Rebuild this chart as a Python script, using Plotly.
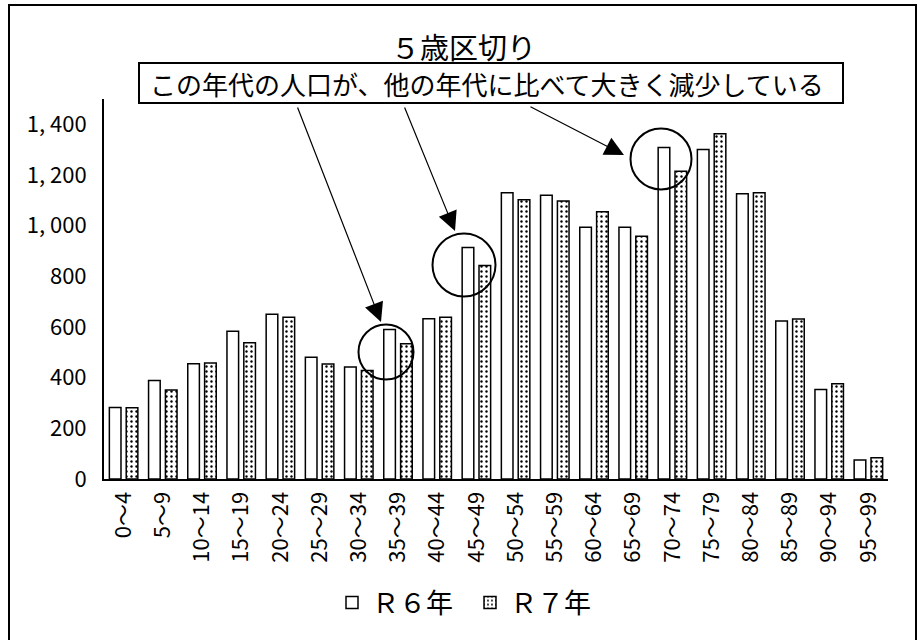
import plotly.graph_objects as go

categories = ["0～4", "5～9", "10～14", "15～19", "20～24", "25～29", "30～34", "35～39",
              "40～44", "45～49", "50～54", "55～59", "60～64", "65～69", "70～74", "75～79",
              "80～84", "85～89", "90～94", "95～99"]
r6_values = [282, 389, 455, 583, 650, 481, 442, 590, 633, 914, 1130, 1120, 994, 994,
             1309, 1301, 1126, 624, 353, 75]
r7_values = [281, 351, 458, 538, 638, 454, 428, 534, 638, 843, 1102, 1097, 1055, 958,
             1215, 1363, 1130, 632, 376, 84]
series_names = ["Ｒ６年", "Ｒ７年"]
y_tick_values = [0, 200, 400, 600, 800, 1000, 1200, 1400]
y_tick_labels = ["0", "200", "400", "600", "800", "1, 000", "1, 200", "1, 400"]
title_text = "５歳区切り"
note_text = "この年代の人口が、他の年代に比べて大きく減少している"

W, H = 923, 640
L, R, T, B = 104, 35, 99, 161
PW, PH = W - L - R, H - T - B
FONT = "Noto Sans CJK JP"


def px(x):
    return (x - L) / PW


def py(y):
    return (H - B - y) / PH


fig = go.Figure()
fig.add_trace(go.Bar(
    x=categories, y=r6_values, name=series_names[0],
    marker=dict(color="white", line=dict(color="black", width=1.5)),
))
fig.add_trace(go.Bar(
    x=categories, y=r7_values, name=series_names[1],
    marker=dict(color="white", line=dict(color="black", width=1.5),
                pattern=dict(shape=".", fgcolor="black", bgcolor="white",
                             size=5, solidity=0.18, fillmode="replace")),
))

shapes = []
# outer frame
shapes.append(dict(type="rect", xref="paper", yref="paper",
                   x0=px(9), x1=px(916), y0=py(5), y1=py(660),
                   line=dict(color="black", width=2), fillcolor="rgba(0,0,0,0)", layer="below"))
# note box
shapes.append(dict(type="rect", xref="paper", yref="paper",
                   x0=px(139), x1=px(843), y0=py(63), y1=py(103),
                   line=dict(color="black", width=2), fillcolor="white"))
# circles
for cx, cy, r in [(386, 352, 27.5), (464, 265, 31.5), (661, 159, 30.5)]:
    shapes.append(dict(type="circle", xref="paper", yref="paper",
                       x0=px(cx - r), x1=px(cx + r), y0=py(cy - r), y1=py(cy + r),
                       line=dict(color="black", width=2)))

annotations = [
    dict(text=title_text, xref="paper", yref="paper", x=px(463), y=py(46),
         showarrow=False, font=dict(family=FONT, size=29, color="black"),
         xanchor="center", yanchor="middle"),
    dict(text=note_text, xref="paper", yref="paper", x=px(487), y=py(83),
         showarrow=False, font=dict(family=FONT, size=26, color="black"),
         xanchor="center", yanchor="middle"),
]
for (tx, ty), (hx, hy) in [((297, 106), (381, 322)), ((404, 106), (455, 231)),
                           ((529, 106), (624, 155))]:
    annotations.append(dict(text="", xref="paper", yref="paper", x=px(hx), y=py(hy),
                            ax=tx - hx, ay=ty - hy, axref="pixel", ayref="pixel",
                            showarrow=True, arrowhead=2, arrowsize=3.2, arrowwidth=1.2,
                            arrowcolor="black", standoff=0))

fig.update_layout(
    width=W, height=H,
    margin=dict(l=L, r=R, t=T, b=B, autoexpand=False),
    paper_bgcolor="white", plot_bgcolor="white",
    font=dict(family=FONT, color="black"),
    barmode="group", bargap=0.14, bargroupgap=0.31,
    showlegend=True,
    legend=dict(orientation="h", x=px(470), y=py(603), xanchor="center", yanchor="middle",
                font=dict(family=FONT, size=27, color="black"), bgcolor="rgba(0,0,0,0)",
                entrywidth=93, entrywidthmode="pixels", itemclick=False),
    shapes=shapes, annotations=annotations,
)
fig.update_xaxes(showline=True, linecolor="black", linewidth=2, showgrid=False,
                 ticks="", tickangle=-90, tickfont=dict(family=FONT, size=22, color="black"),
                 ticklabelstandoff=2)
fig.update_yaxes(range=[0, 1500], tickvals=y_tick_values, ticktext=y_tick_labels,
                 showline=True, linecolor="black", linewidth=2, showgrid=False,
                 zeroline=False, ticks="",
                 tickfont=dict(family=FONT, size=22, color="black"), ticklabelstandoff=11)

fig.write_html("out.html", config={"displayModeBar": False},
               post_script="document.body.style.margin='0';")
